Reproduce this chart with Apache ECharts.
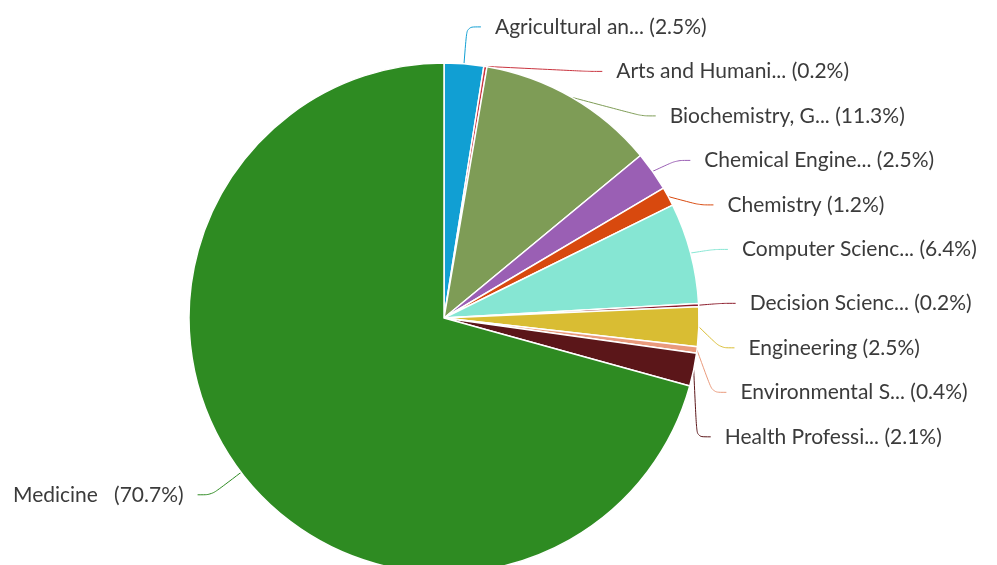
<!DOCTYPE html>
<html>
	<head>
		<meta charset="UTF-8" />
		<title>Documents by subject area</title>
		<style>
			html, body { margin: 0; padding: 0; background: #fff; }
			#pic { width: 997px; height: 565px; }
		</style>
	</head>
	<body>
		<div id="pic"></div>
		<script src="https://cdn.jsdelivr.net/npm/echarts@6/dist/echarts.min.js"></script>
		<script>
			// subject areas and their share (%)
			var subjects = ['Agricultural and Biological Sciences', 'Arts and Humanities', 'Biochemistry, Genetics and Molecular Biology',
				'Chemical Engineering', 'Chemistry', 'Computer Science', 'Decision Sciences', 'Engineering',
				'Environmental Science', 'Health Professions', 'Medicine'];
			var shares = [2.5, 0.2, 11.3, 2.5, 1.2, 6.4, 0.2, 2.5, 0.4, 2.1, 70.7];
			var colors = ['#119fd3', '#c9343f', '#7e9c56', '#9a5fb4', '#d8490e', '#86e6d3', '#8c1d2c',
				'#d9bd33', '#e99a7c', '#5b1619', '#2e8b22'];

			function shortName(n) {
				return n.length > 15 ? n.slice(0, 15) + '...' : n;
			}

			var myChart = echarts.init(document.getElementById('pic'));
			myChart.setOption({
				animation: false,
				series: [{
					type: 'pie',
					center: [444, 318],
					radius: 255,
					startAngle: 90,
					clockwise: true,
					avoidLabelOverlap: true,
					data: subjects.map(function(s, i) {
						return {
							name: s,
							value: shares[i],
							itemStyle: { color: colors[i] }
						};
					}),
					itemStyle: {
						borderColor: '#fff',
						borderWidth: 1.5
					},
					label: {
						fontFamily: 'Lato',
						fontSize: 21,
						lineHeight: 42.5,
						color: '#3b3b3b',
						distanceToLabelLine: 14,
						formatter: function(p) {
							var gap = p.name === 'Medicine' ? '   ' : ' ';
							return shortName(p.name) + gap + '(' + p.value + '%)';
						}
					},
					labelLine: {
						length: 37,
						length2: 14,
						smooth: 0.3,
						lineStyle: { width: 1 }
					}
				}]
			});
		</script>
	</body>
</html>
